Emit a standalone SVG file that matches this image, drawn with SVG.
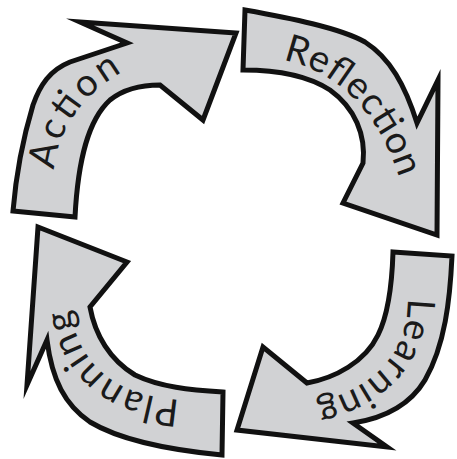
<svg xmlns="http://www.w3.org/2000/svg" width="457" height="459" viewBox="0 0 457 459">
<style>
.arrow{fill:#d1d2d4;stroke:#111;stroke-width:5;stroke-linejoin:miter;stroke-miterlimit:10}
.lbl{font-family:Lato,"Open Sans","Liberation Sans",sans-serif;font-size:38px;fill:#1a1a1a}
</style>
<defs>
<path id="tp-action" d="M54,170 C59,125 86,92 126,70"/>
<path id="tp-reflection" d="M283,60 C330,70 373,102 398,174"/>
<path id="tp-learning" d="M408,298 C408,350 378,388 313,403"/>
<path id="tp-planning" d="M180,400 C120,396 77,368 70,305"/>
</defs>
<rect width="457" height="459" fill="#fff"/>
<g id="action">
<path class="arrow" d="M13,211 L75,217 C78,160 88,120 110,100 C125,88 145,85 160,85 L203,120 L236,33 L80,22 L127,43 L70,62 C50,70 40,85 33,105 C24,135 16,175 13,211 Z"/>
<text class="lbl"><textPath href="#tp-action" textLength="124" lengthAdjust="spacing">Action</textPath></text>
</g>
<g id="reflection">
<path class="arrow" d="M245,10 C290,18 340,28 365,42 C390,58 405,85 417,123 L438,80 L437,235 L343,203 L363,163 C366,135 355,108 330,90 C310,77 280,70 243,70 Z"/>
<text class="lbl"><textPath href="#tp-reflection" textLength="174" lengthAdjust="spacing">Reflection</textPath></text>
</g>
<g id="learning">
<path class="arrow" d="M393,252 L452,256 C450,300 445,345 425,380 C410,405 385,418 353,423 L387,447 L237,430 L263,347 L307,383 C335,378 365,362 378,335 C388,315 392,285 393,252 Z"/>
<text class="lbl"><textPath href="#tp-learning" textLength="152" lengthAdjust="spacing">Learning</textPath></text>
</g>
<g id="planning">
<path class="arrow" d="M222,455 C170,450 120,440 90,422 C65,405 52,380 47,340 L27,385 L38,227 L127,262 L90,307 C95,335 110,360 135,375 C160,387 190,390 223,392 Z"/>
<text class="lbl"><textPath href="#tp-planning" textLength="156" lengthAdjust="spacing">Planning</textPath></text>
</g>
</svg>
